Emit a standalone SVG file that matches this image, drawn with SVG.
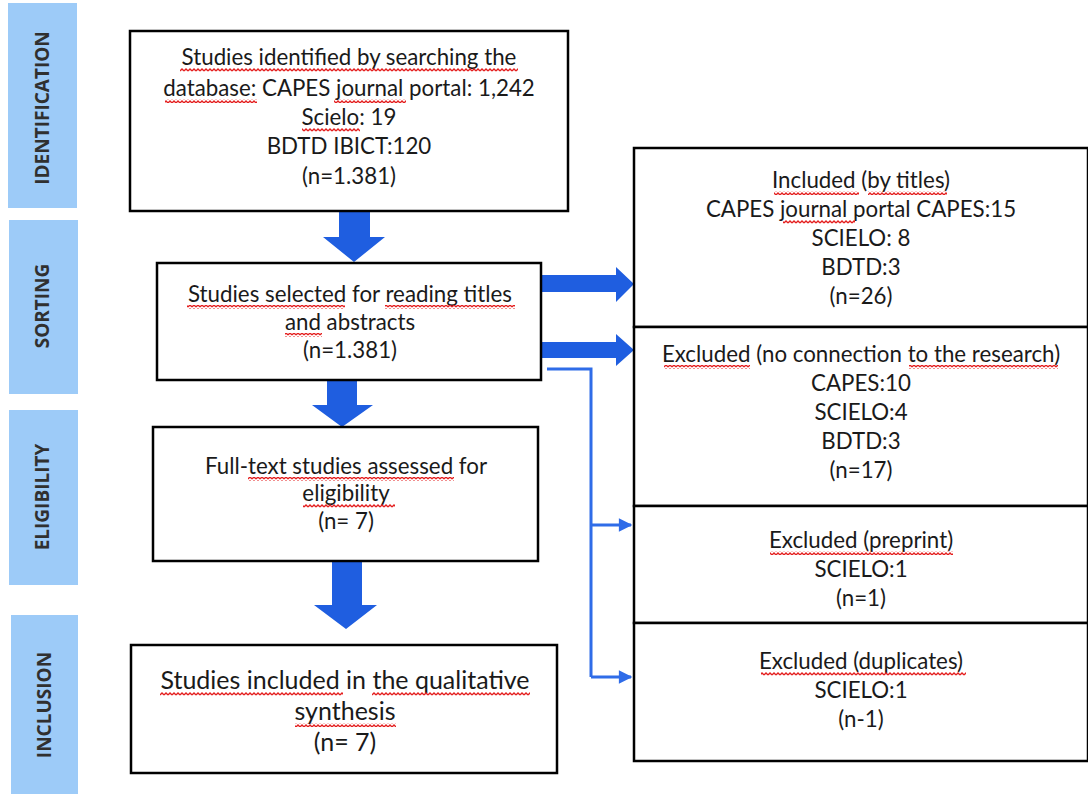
<svg xmlns="http://www.w3.org/2000/svg" width="1088" height="794" viewBox="0 0 1088 794">
<style>
.bar{fill:#9dcbf8}
.lbl{font-family:"Open Sans","Liberation Sans",sans-serif;font-weight:bold;font-size:19px;fill:#303030;text-anchor:middle}
.box{fill:#fff;stroke:#000;stroke-width:2.5}
.t{font-family:Lato,"Liberation Sans",sans-serif;font-size:22.3px;fill:#1a1a1a;text-anchor:middle}
.tb{font-size:25px}
.fat{fill:#1f5ee0}
.thin{fill:none;stroke:#2f6ce8;stroke-width:3}
.wv{fill:url(#wave)}
</style>
<defs>
<pattern id="wave" width="4" height="4" patternUnits="userSpaceOnUse">
<path d="M0 3 L2 1 L4 3" fill="none" stroke="#e41e1e" stroke-width="1.3"/>
</pattern>
<marker id="ah" viewBox="0 0 10 10" refX="9" refY="5" markerWidth="5" markerHeight="4.5" markerUnits="strokeWidth" orient="auto">
<path d="M0 0 L10 5 L0 10 Z" fill="#2f6ce8"/>
</marker>
</defs>

<g id="phase-identification"><rect class="bar" x="8" y="3" width="69" height="205"/><text class="lbl" transform="translate(49,108) rotate(-90)">IDENTIFICATION</text></g>
<g id="phase-sorting"><rect class="bar" x="9" y="220" width="69" height="174"/><text class="lbl" transform="translate(49,306) rotate(-90)">SORTING</text></g>
<g id="phase-eligibility"><rect class="bar" x="9" y="410" width="69" height="175"/><text class="lbl" transform="translate(49,497) rotate(-90)">ELIGIBILITY</text></g>
<g id="phase-inclusion"><rect class="bar" x="11" y="615" width="67" height="179"/><text class="lbl" transform="translate(51,705) rotate(-90)">INCLUSION</text></g>

<g id="connectors">
<path class="fat" d="M339 211 H370 V237 H385 L354 262 L323 237 H339 Z"/>
<path class="fat" d="M327 380 H357 V405 H373 L342 427 L312 405 H327 Z"/>
<path class="fat" d="M332 562 H362 V605 H377 L346 629 L314 605 H332 Z"/>
<path class="fat" d="M541 275 H616 V267 L634 284 L616 302 V292 H541 Z"/>
<path class="fat" d="M541 342 H616 V334 L634 350 L616 366 V358 H541 Z"/>
<path class="thin" d="M547 369 H591 V677"/>
<path class="thin" d="M591 525 H631" marker-end="url(#ah)"/>
<path class="thin" d="M591 677 H631" marker-end="url(#ah)"/>
</g>

<g id="box-identified">
<rect class="box" x="130" y="31" width="438" height="180"/>
<text class="t" x="349" y="65">Studies identified by searching the</text>
<text class="t" x="349" y="96">database: CAPES journal portal: 1,242</text>
<text class="t" x="349" y="125">Scielo: 19</text>
<text class="t" x="349" y="154">BDTD IBICT:120</text>
<text class="t" x="349" y="184">(n=1.381)</text>
<rect class="wv" x="180" y="68" width="338" height="4"/>
<rect class="wv" x="165" y="99" width="92" height="4"/>
<rect class="wv" x="334" y="99" width="72" height="4"/>
<rect class="wv" x="302" y="128" width="58" height="4"/>
</g>

<g id="box-selected">
<rect class="box" x="157" y="263" width="384" height="117"/>
<text class="t" x="350" y="302">Studies selected for reading titles</text>
<text class="t" x="350" y="330">and abstracts</text>
<text class="t" x="350" y="358">(n=1.381)</text>
<rect class="wv" x="187" y="305" width="158" height="4"/>
<rect class="wv" x="385" y="305" width="130" height="4"/>
<rect class="wv" x="285" y="333" width="37" height="4"/>
</g>

<g id="box-fulltext">
<rect class="box" x="153" y="427" width="385" height="134"/>
<text class="t" x="346" y="474">Full-text studies assessed for</text>
<text class="t" x="346" y="501">eligibility</text>
<text class="t" x="346" y="529">(n= 7)</text>
<rect class="wv" x="248" y="477" width="206" height="4"/>
<rect class="wv" x="303" y="504" width="92" height="4"/>
</g>

<g id="box-included-synthesis">
<rect class="box" x="131" y="645" width="426" height="128"/>
<text class="t tb" x="345" y="689">Studies included in the qualitative</text>
<text class="t tb" x="345" y="720">synthesis</text>
<text class="t tb" x="345" y="751">(n= 7)</text>
<rect class="wv" x="160" y="692" width="183" height="4"/>
<rect class="wv" x="372" y="692" width="158" height="4"/>
<rect class="wv" x="295" y="723" width="101" height="4"/>
</g>

<g id="box-included-titles">
<rect class="box" x="634" y="148" width="454" height="179"/>
<text class="t" x="861" y="188">Included (by titles)</text>
<text class="t" x="861" y="217">CAPES journal portal CAPES:15</text>
<text class="t" x="861" y="246">SCIELO: 8</text>
<text class="t" x="861" y="275">BDTD:3</text>
<text class="t" x="861" y="304">(n=26)</text>
<rect class="wv" x="774" y="191" width="85" height="4"/>
<rect class="wv" x="868" y="191" width="79" height="4"/>
<rect class="wv" x="783" y="220" width="72" height="4"/>
</g>

<g id="box-excluded-noconnection">
<rect class="box" x="634" y="327" width="454" height="179"/>
<text class="t" x="861" y="362">Excluded (no connection to the research)</text>
<text class="t" x="861" y="391">CAPES:10</text>
<text class="t" x="861" y="420">SCIELO:4</text>
<text class="t" x="861" y="449">BDTD:3</text>
<text class="t" x="861" y="478">(n=17)</text>
<rect class="wv" x="664" y="365" width="86" height="4"/>
<rect class="wv" x="909" y="365" width="149" height="4"/>
</g>

<g id="box-excluded-preprint">
<rect class="box" x="634" y="506" width="454" height="117"/>
<text class="t" x="861" y="548">Excluded (preprint)</text>
<text class="t" x="861" y="577">SCIELO:1</text>
<text class="t" x="861" y="606">(n=1)</text>
<rect class="wv" x="770" y="551" width="183" height="4"/>
</g>

<g id="box-excluded-duplicates">
<rect class="box" x="634" y="623" width="454" height="138"/>
<text class="t" x="861" y="669">Excluded (duplicates)</text>
<text class="t" x="861" y="698">SCIELO:1</text>
<text class="t" x="861" y="727">(n-1)</text>
<rect class="wv" x="761" y="672" width="205" height="4"/>
</g>
</svg>
